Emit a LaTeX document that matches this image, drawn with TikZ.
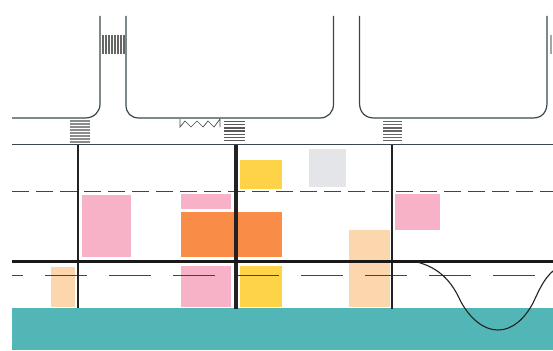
\documentclass[tikz,border=0pt]{standalone}
\definecolor{road}{HTML}{38474F}
\definecolor{pinkb}{HTML}{F7B2C8}
\definecolor{orangeb}{HTML}{F98C46}
\definecolor{yellowb}{HTML}{FFD348}
\definecolor{grayb}{HTML}{E4E5E8}
\definecolor{peachb}{HTML}{FCD7AE}
\definecolor{tealb}{HTML}{53B6B6}
\definecolor{darkline}{HTML}{222222}
\tikzset{
  roadline/.style={draw=road,line width=1.2pt},
  block/.style={draw=none},
  dashone/.style={draw=darkline!85,line width=1pt,dash pattern=on 17pt off 7pt},
  dashtwo/.style={draw=darkline!85,line width=1pt,dash pattern=on 42pt off 22pt},
  stripe/.style={draw=black!60,line width=1.1pt},
  stripedark/.style={draw=black!65,line width=1.4pt},
}
\begin{document}
\begin{tikzpicture}[x=1pt,y=-1pt]
\useasboundingbox (0,0) rectangle (553,350);
\fill[white] (0,0) rectangle (553,350);
% colour blocks
\fill[tealb] (12,308) rectangle (553,350);
\fill[yellowb] (240,160) rectangle (282,189);
\fill[grayb] (309,149) rectangle (346,187);
\fill[pinkb] (82,195) rectangle (131,257);
\fill[pinkb] (181,194) rectangle (231,209);
\fill[orangeb] (181,212) rectangle (282,257);
\fill[pinkb] (395,194) rectangle (440,230);
\fill[peachb] (349,230) rectangle (390,307);
\fill[peachb] (51,267) rectangle (75,307);
\fill[pinkb] (181,266) rectangle (231,307);
\fill[yellowb] (240,266) rectangle (282,307);
% roads
\draw[roadline] (12,118) -- (85,118) .. controls (94,118) and (100,112) .. (100,104) -- (100,16);
\draw[roadline] (126,16) -- (126,105) .. controls (126,113) and (131,118) .. (139,118) -- (320,118) .. controls (328,118) and (333.5,112) .. (333.5,104) -- (333.5,16);
\draw[roadline] (359.5,16) -- (359.5,103) .. controls (359.5,112) and (365,118) .. (374,118) -- (533,118) .. controls (542,118) and (547,112) .. (547,103) -- (547,16);
\draw[roadline] (12,144.5) -- (553,144.5);
% crossings
\foreach \y in {121,124,...,143} \draw[stripe,draw=black!45] (70,\y) -- (89.5,\y);
\foreach \y in {121.5,124.7,...,143} \draw[stripedark] (224,\y) -- (245,\y);
\foreach \y in {121.5,124.7,...,143} \draw[stripe,line width=1.3pt] (383,\y) -- (402,\y);
\foreach \x in {103,106,...,124} \draw[stripe] (\x,35) -- (\x,54);
\foreach \x in {551} \draw[stripe,draw=black!35,line width=2pt] (\x,35) -- (\x,54);
% zigzag
\draw[draw=black!70,line width=.7pt] (180,119) -- (180,127) -- (185,121) -- (191,127) -- (197,121) -- (203,127) -- (208,121) -- (214,127) -- (220,119) -- (220,127);
% dashed lines
\draw[dashone] (12,191) -- (553,191);
\draw[dashtwo,dash phase=31pt] (12,275) -- (553,275);
% main lines
\draw[draw=darkline,line width=1.3pt] (78,145) -- (78,308);
\draw[draw=darkline,line width=3.6pt] (236,145) -- (236,309);
\draw[draw=darkline,line width=1.1pt] (392,145) -- (392,309);
\draw[draw=black!90,line width=3pt] (12,261.5) -- (553,261.5);
% curve
\draw[draw=darkline,line width=1.1pt] (417,262) .. controls (440,268) and (452,282) .. (461,302) .. controls (470,318) and (483,330) .. (498,330) .. controls (513,330) and (525,318) .. (533,303) .. controls (540,288) and (544,279) .. (553,271);
\end{tikzpicture}
\end{document}
